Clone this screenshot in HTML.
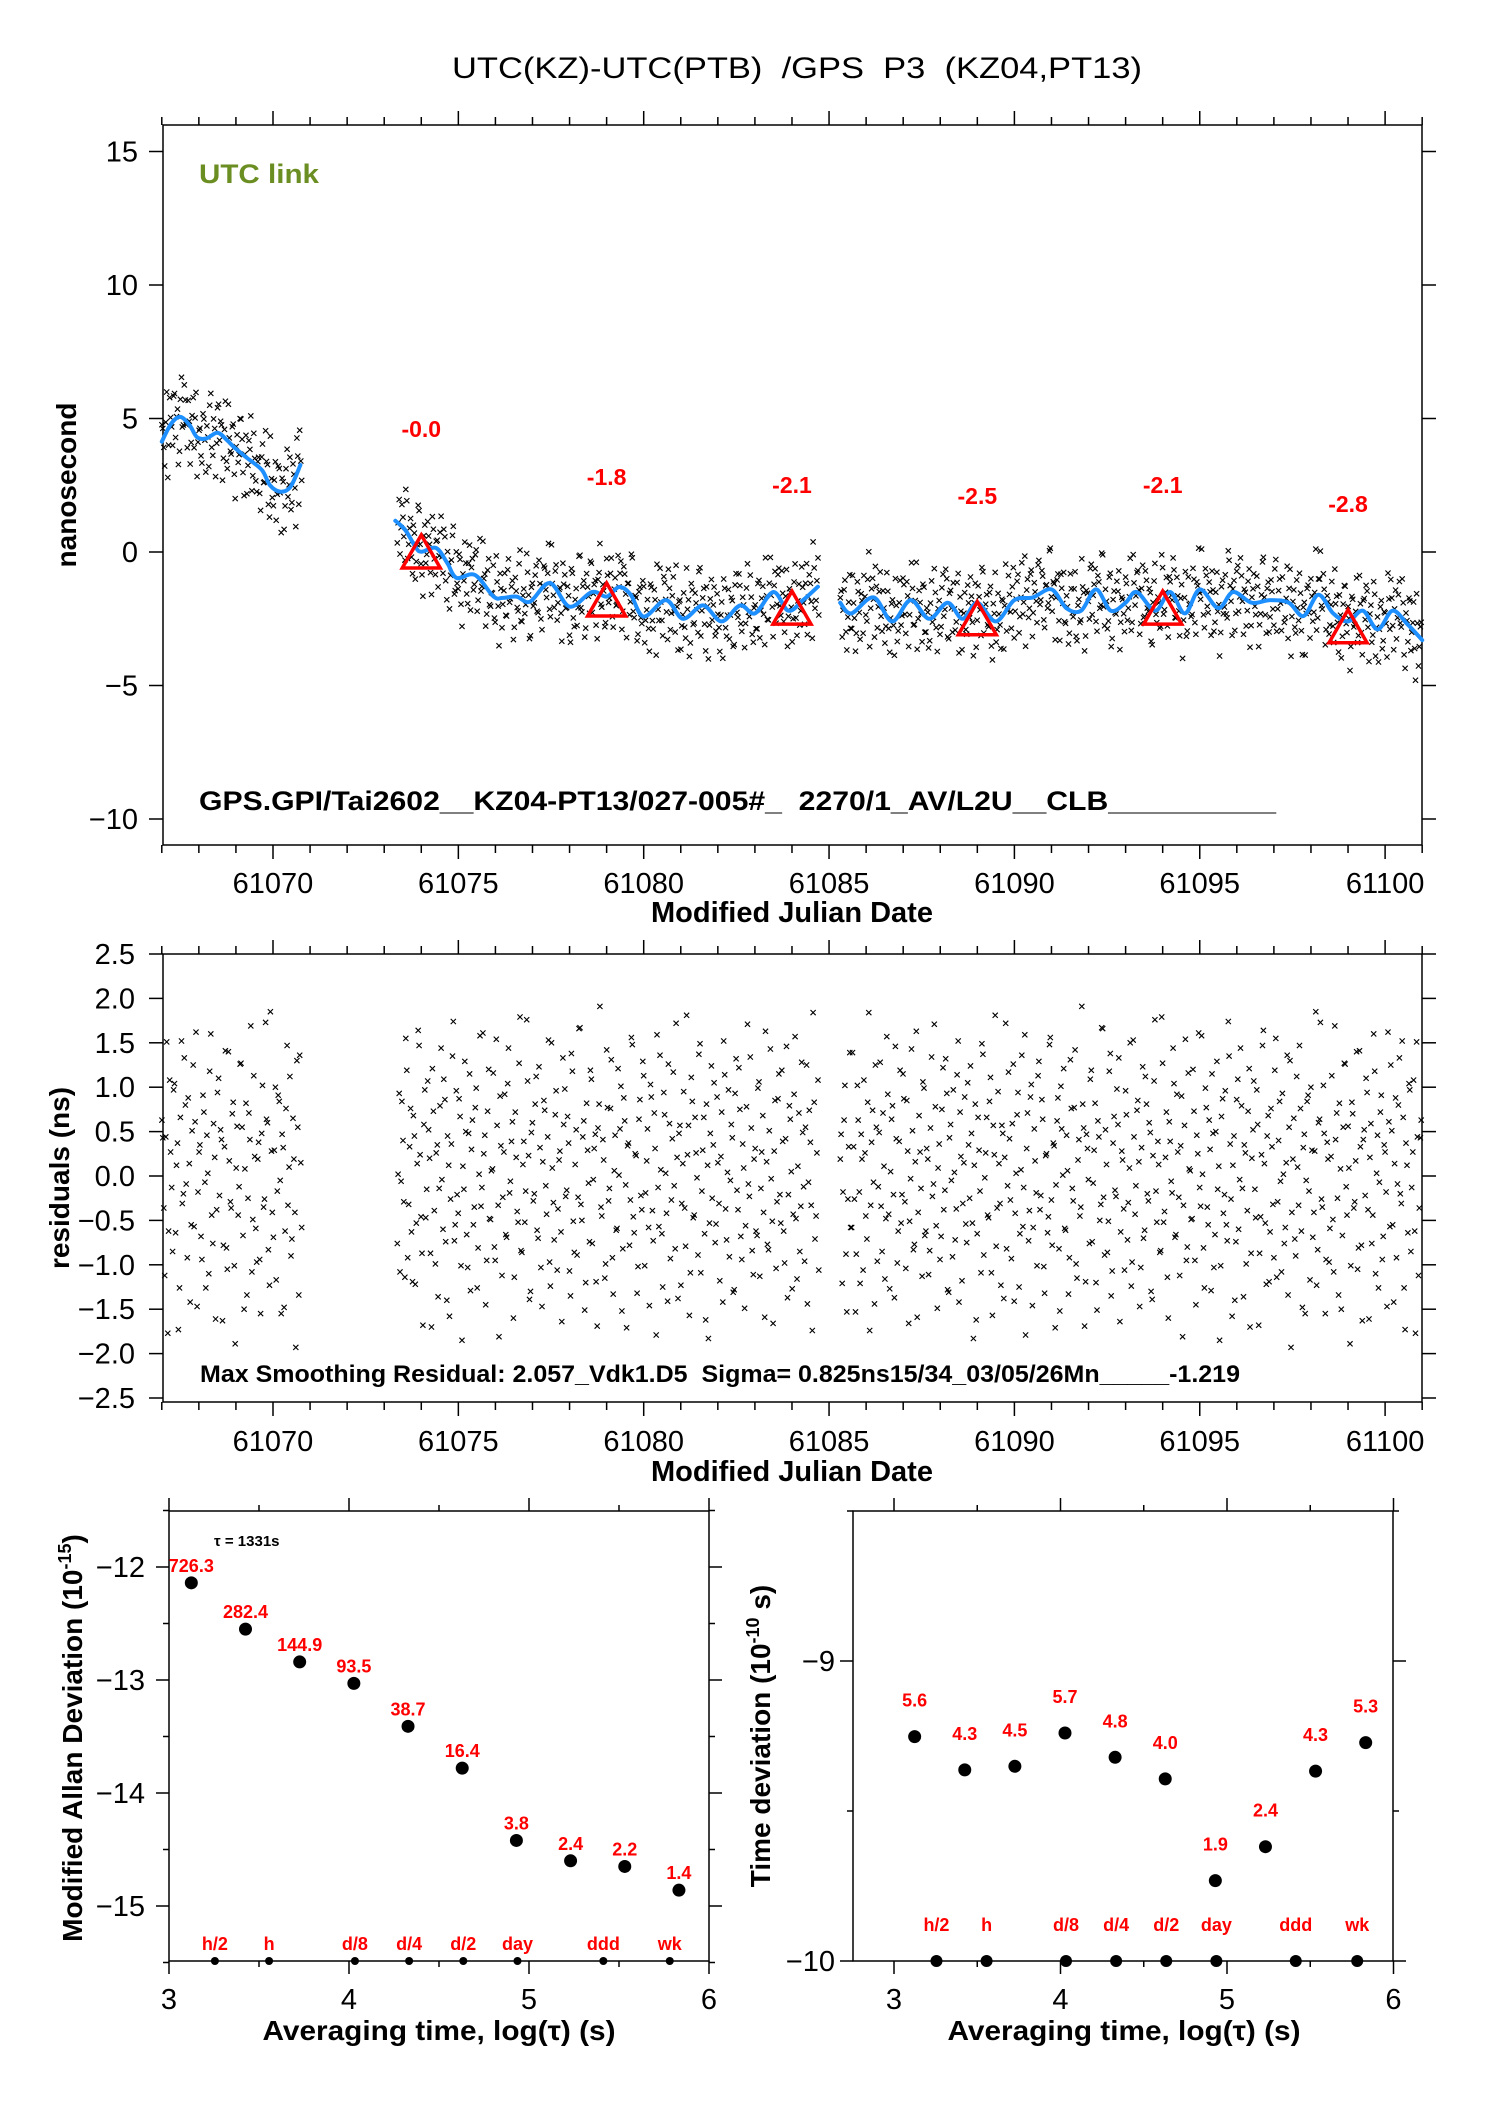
<!DOCTYPE html>
<html><head><meta charset="utf-8"><style>
html,body{margin:0;padding:0;background:#fff;}
svg{display:block;font-family:"Liberation Sans",sans-serif;}
svg text{white-space:pre;}
</style></head><body>
<svg id="fig" width="1488" height="2105" viewBox="0 0 1488 2105" xmlns="http://www.w3.org/2000/svg">
<text x="797" y="78" font-size="30" text-anchor="middle" textLength="690" lengthAdjust="spacingAndGlyphs">UTC(KZ)-UTC(PTB)  /GPS  P3  (KZ04,PT13)</text>
<g id="topP"></g>
<g id="mid"></g>
<g id="bl"></g>
<g id="br"></g>
</svg>
<script>
// ---------- data ----------
const segments = [[61067.0,61070.8],[61073.35,61084.75],[61085.3,61101.0]];
const segCounts = [72,222,306];
const smoothMjd1 = [61067.0,61067.25,61067.5,61067.75,61067.95,61068.2,61068.5,61068.75,61068.97,61069.3,61069.7,61069.92,61070.2,61070.47,61070.74];
const smoothVal1 = [4.13,4.8,5.06,4.75,4.3,4.25,4.47,4.2,3.9,3.52,3.07,2.5,2.26,2.44,3.26];
const smoothMjd2 = [61073.3,61073.57,61073.84,61074.0,61074.4,61074.7,61074.95,61075.45,61075.95,61076.2,61076.57,61076.93,61077.47,61078.0,61078.6,61079.0,61079.34,61079.65,61080.0,61080.6,61081.06,61081.6,61082.1,61082.6,61083.0,61083.5,61083.9,61084.3,61084.7];
const smoothVal2 = [1.17,0.82,0.2,0.01,0.15,-0.41,-0.97,-0.86,-1.67,-1.72,-1.67,-1.86,-1.16,-2.05,-1.5,-1.67,-1.31,-1.6,-2.42,-1.8,-2.5,-2.0,-2.6,-2.0,-2.3,-1.5,-2.2,-1.8,-1.3];
const smoothMjd3 = [61085.3,61085.6,61086.2,61086.7,61087.2,61087.7,61088.2,61088.6,61089.0,61089.5,61090.0,61090.5,61091.0,61091.4,61091.8,61092.2,61092.6,61093.0,61093.3,61093.8,61094.2,61094.6,61095.0,61095.5,61095.9,61096.4,61096.9,61097.4,61097.8,61098.2,61098.6,61099.0,61099.4,61099.8,61100.2,61100.6,61101.0];
const smoothVal3 = [-1.9,-2.3,-1.7,-2.6,-1.8,-2.5,-1.9,-2.5,-1.9,-2.6,-1.8,-1.7,-1.4,-2.1,-2.2,-1.4,-2.2,-1.9,-1.5,-2.2,-1.5,-2.3,-1.4,-2.1,-1.5,-1.9,-1.8,-1.9,-2.4,-1.6,-2.3,-2.6,-2.2,-2.9,-2.2,-2.7,-3.3];
const triMjd = [61074,61079,61084,61089,61094,61099];
const triVal = [0.0,-1.8,-2.1,-2.5,-2.1,-2.8];
const triLabels = ["-0.0","-1.8","-2.1","-2.5","-2.1","-2.8"];
const residuals = [
0.43,-1.12,1.51,-0.62,0.27,-0.85,1.04,0.12,-1.73,0.66,-0.31,1.33,-0.09,0.88,-1.42,0.51,-0.57,1.62,-0.18,0.35,
-0.94,0.72,-1.26,0.03,1.18,-0.44,0.59,-1.61,0.94,-0.22,0.41,-0.78,1.41,-1.05,0.17,-0.36,0.83,-1.89,0.56,-0.12,
1.27,-0.67,0.08,-1.34,0.71,1.69,-0.49,0.22,-0.97,0.38,-1.55,1.02,-0.26,0.64,-0.83,1.85,-0.41,0.29,-1.17,0.91,
-0.05,0.47,-1.48,0.76,-0.33,1.12,-0.71,0.19,-1.93,0.55,1.36,-0.58,0.02,-1.08,0.84,-0.29,1.55,-0.92,0.33,-0.63,
0.68,-1.22,0.14,1.47,-0.46,-1.68,0.97,-0.15,0.52,-0.87,1.21,-0.39,0.26,-1.36,0.79,-0.04,1.09,-0.74,0.45,-1.58,
0.36,1.74,-0.55,-0.21,0.87,-1.01,0.11,1.29,-0.66,0.48,-1.29,0.63,-0.35,0.99,-0.81,1.58,-0.13,0.25,-1.45,0.73,
-0.48,0.06,1.16,-0.95,0.57,-1.81,0.34,-0.24,0.92,-0.69,1.44,-0.06,0.61,-1.14,0.21,-0.52,1.79,-0.86,0.39,-0.17,
1.07,-1.39,0.49,-0.28,0.81,-0.61,1.23,-1.03,0.16,0.74,-0.43,1.53,-1.24,0.09,-0.72,0.96,-0.37,0.28,-1.64,0.58,
-0.23,0.67,-1.07,1.38,-0.51,0.13,-0.89,1.66,-0.32,0.44,-1.51,0.82,-0.08,1.19,-0.76,0.31,-1.19,0.54,1.91,-0.45,
0.18,-0.99,0.77,-0.14,1.31,-1.33,0.46,-0.59,0.01,1.01,-0.82,0.62,-1.71,0.37,-0.27,1.48,-0.64,0.23,-1.02,0.86,
-0.38,1.13,-0.19,0.53,-1.46,0.89,-0.73,0.31,1.59,-0.57,0.07,-1.25,0.69,-0.42,1.26,-0.93,0.42,-0.11,1.72,-1.38,
0.57,-0.31,0.95,-0.79,0.24,-1.57,1.11,-0.47,0.66,-0.02,1.37,-1.09,0.29,-0.65,0.81,-1.83,0.48,-0.25,1.05,-0.54,
0.15,-1.18,0.72,1.52,-0.37,0.04,-0.91,0.58,-1.31,0.93,-0.16,1.22,-0.68,0.36,-1.49,0.78,-0.09,1.34,-0.84,0.19,
-0.62,0.99,-1.13,0.27,-0.41,1.63,-0.77,0.51,-0.03,-1.66,0.85,-0.29,1.15,-0.53,0.39,-0.98,1.46,-0.21,0.64,-1.27,
0.92,-0.48,0.11,-0.85,1.28,-0.12,0.55,-1.44,0.74,-0.33,1.84,-0.71,0.26,-1.06,0.47,-0.18,1.02,-1.53,0.33,-0.58,
1.39,-0.26,-0.88,0.63,-1.21,0.19,1.08,-0.45,0.83,-1.74,0.38,-0.07,1.25,-0.96,0.49,-0.34,0.71,-1.16,1.57,-0.43,
0.05,0.79,-1.37,0.42,-0.62,1.19,-0.21,0.87,-1.04,0.28,-0.51,1.43,-0.83,0.16,-1.59,0.68,-0.14,1.06,-0.67,0.31,
-1.11,0.54,-0.23,1.71,-0.56,0.09,-0.94,0.75,-0.38,1.32,-1.28,0.43,-0.05,0.97,-0.72,1.14,-1.42,0.22,-0.31,0.89,
-0.75,0.35,1.24,-0.53,0.12,-1.62,0.66,-0.17,1.49,-0.89,0.26,-0.44,0.84,-1.09,0.57,1.81,-0.36,0.14,-1.23,0.48,
0.21,-0.82,1.17,-0.27,0.59,-1.41,0.03,0.94,-0.65,1.36,-0.13,-1.79,0.71,-0.39,1.03,-0.58,0.17,-1.01,1.29,-0.22,
0.64,-1.32,0.25,-0.46,1.56,-0.78,0.34,-0.1,0.88,-1.52,0.53,1.21,-0.61,0.06,-0.92,0.76,-0.28,1.42,-1.15,0.41,
-0.35,0.81,-1.69,0.47,-0.04,1.09,-0.74,0.29,-1.2,0.62,-0.5,1.67,-0.24,0.52,-0.86,1.18,-1.35,0.37,-0.16,0.98,
1.33,-0.63,0.18,-1.06,0.69,-0.3,1.5,-0.97,0.44,-0.11,0.85,-1.47,0.32,-0.7,1.12,-0.2,0.6,-1.3,0.23,1.76,
-0.52,0.13,-0.84,1.27,-0.4,0.72,-1.6,0.39,-0.19,1.04,-0.66,0.27,-1.12,0.9,-0.33,1.54,-0.8,0.08,-0.49,1.2,
-0.95,0.46,1.61,-0.34,0.02,-1.26,0.77,-0.55,0.3,1.15,-1.03,0.5,-0.15,-1.85,0.67,-0.42,0.96,-0.73,1.35,-0.26,
0.12,-1.4,0.86,-0.6,1.44,-0.14,0.35,-0.99,0.73,-1.7,0.2,1.07,-0.47,0.58,-0.87,0.24,1.64,-0.53,0.45,-1.19,
0.76,-0.32,1.19,-1.14,0.4,-0.06,0.93,-0.76,0.15,-1.34,1.3,-0.41,0.65,-0.9,0.1,1.47,-0.62,0.32,-1.55,0.84,
-0.17,1.0,-0.69,0.28,-1.23,0.6,1.73,-0.35,0.48,-0.94,0.19,-0.59,1.13,-1.08,0.41,-0.25,0.82,-1.5,0.55,1.26,
-0.44,0.09,-1.01,0.7,-0.29,1.4,-0.81,0.33,-1.63,0.52,1.1,-0.38,0.21,-0.76,1.6,-1.1,0.46,-0.07,0.91,-0.68,
0.27,-1.47,0.61,1.25,-0.55,0.14,-0.92,0.8,-0.2,1.52,-1.26,0.37,-0.64,0.97,-0.13,1.08,-1.77,0.44,-0.36,0.63];
const tauLog = [3.124,3.425,3.726,4.027,4.328,4.629,4.930,5.231,5.532,5.833];
const mdevVal = [-12.14,-12.55,-12.84,-13.03,-13.41,-13.78,-14.42,-14.60,-14.65,-14.86];
const mdevLabels = ["726.3","282.4","144.9","93.5","38.7","16.4","3.8","2.4","2.2","1.4"];
const tdevVal = [-9.252,-9.363,-9.351,-9.24,-9.321,-9.393,-9.732,-9.619,-9.367,-9.272];
const tdevLabels = ["5.6","4.3","4.5","5.7","4.8","4.0","1.9","2.4","4.3","5.3"];
const markLog = [3.255,3.556,4.033,4.334,4.635,4.936,5.413,5.782];
const markLabels = ["h/2","h","d/8","d/4","d/2","day","ddd","wk"];
const mjdTicks = [61070,61075,61080,61085,61090,61095,61100];
const nsTicks = [15,10,5,0,-5,-10];
const resTicks = [2.5,2.0,1.5,1.0,0.5,0.0,-0.5,-1.0,-1.5,-2.0,-2.5];
const logTicks = [3,4,5,6];
const mdevTicks = [-12,-13,-14,-15];
const tdevTicks = [-9,-10];

// ---------- scales ----------
const xT = m => 273 + (m-61070)*37.07;
const yT = v => 151.5 + (15-v)*26.7;
const yM = v => 954 + (2.5-v)*88.8;
const xL = l => 169 + (l-3)*180;
const yL = v => 1567 + (-12-v)*113;
const xR = l => 894 + (l-3)*166.5;
const yR = v => 1661 + (-9-v)*300;
const NS="http://www.w3.org/2000/svg";
function mk(parent, tag, attrs, txtc){const e=document.createElementNS(NS,tag);for(const k in attrs)e.setAttribute(k,attrs[k]);if(txtc!==undefined)e.textContent=txtc;parent.appendChild(e);return e;}
const fmtMinus = s => String(s).replace('-','\u2212');

function drawFrame(g,x0,y0,x1,y1,name){
  const r=mk(g,'rect',{x:x0,y:y0,width:x1-x0,height:y1-y0,fill:'none',stroke:'#000','stroke-width':1.5});
  
  
}
function drawLine(g,x1,y1,x2,y2,w,name){
  const l=mk(g,'line',{x1,y1,x2,y2,stroke:'#000','stroke-width':w||1.5});
  
  
}
function drawText(g,x,y,s,attrs,name){
  const t=mk(g,'text',Object.assign({x,y},attrs),s);
  
  
  return t;
}
function smoothPath(xs,ys){
  let d='M'+xs[0].toFixed(1)+','+ys[0].toFixed(1);
  for(let i=0;i<xs.length-1;i++){
    const x0=xs[Math.max(i-1,0)],y0=ys[Math.max(i-1,0)],x1=xs[i],y1=ys[i],x2=xs[i+1],y2=ys[i+1],x3=xs[Math.min(i+2,xs.length-1)],y3=ys[Math.min(i+2,xs.length-1)];
    const c1x=x1+(x2-x0)/6,c1y=y1+(y2-y0)/6,c2x=x2-(x3-x1)/6,c2y=y2-(y3-y1)/6;
    d+=` C${c1x.toFixed(1)},${c1y.toFixed(1)} ${c2x.toFixed(1)},${c2y.toFixed(1)} ${x2.toFixed(1)},${y2.toFixed(1)}`;
  }
  return d;
}
function interp(ms,vs,m){
  if(m<=ms[0])return vs[0];
  for(let i=0;i<ms.length-1;i++){if(m<=ms[i+1]){const f=(m-ms[i])/(ms[i+1]-ms[i]);return vs[i]+f*(vs[i+1]-vs[i]);}}
  return vs[vs.length-1];
}
function drawCross(g,x,y,name){
  const p=mk(g,'path',{d:`M${(x-2.6).toFixed(1)},${(y-2.6).toFixed(1)}l5.2,5.2m0,-5.2l-5.2,5.2`,stroke:'#000','stroke-width':1.1,fill:'none'});
  
  
}
function mjdAxis(g,y0,y1){
  for(let d=61067; d<=61101; d++){
    const x=xT(d), maj=d%5===0, L=maj?14:8;
    drawLine(g,x,y0,x,y0-L,1.5,'x-tick-top');
    drawLine(g,x,y1,x,y1+L,1.5,'x-tick-bottom');
  }
}
// two sample passes: residual i at step k+0.5, and residual (N-1-i) at step k
const sampleMjd=[], sampleRes=[];
const NR=residuals.length;
let idx=0;
segments.forEach((s,si)=>{const n=segCounts[si];for(let k=0;k<n;k++){
  const st=(s[1]-s[0])/n;
  sampleMjd.push(s[0]+(k+0.5)*st); sampleRes.push(residuals[idx]);
  sampleMjd.push(s[0]+(k+0.05)*st); sampleRes.push(residuals[NR-1-idx]);
  idx++;
}});
const smoothAll = m => m<61072 ? interp(smoothMjd1,smoothVal1,m) : (m<61085 ? interp(smoothMjd2,smoothVal2,m) : interp(smoothMjd3,smoothVal3,m));

// ---------- top panel ----------
const topPanel=document.getElementById('topP');
drawFrame(topPanel,163,125,1422,845,'top-plot-frame');
mjdAxis(topPanel,125,845);
nsTicks.forEach(v=>{
  const y=yT(v);
  drawLine(topPanel,149,y,163,y,1.5,'y-tick-left');
  drawLine(topPanel,1422,y,1436,y,1.5,'y-tick-right');
  drawText(topPanel,138,y+10,fmtMinus(v),{'font-size':29,'text-anchor':'end'},'y-tick-label');
});
mjdTicks.forEach(m=>drawText(topPanel,xT(m),893,String(m),{'font-size':29,'text-anchor':'middle'},'x-tick-label'));
drawText(topPanel,792,922,'Modified Julian Date',{'font-size':29,'font-weight':'bold','text-anchor':'middle'},'x-axis-title');
drawText(topPanel,0,0,'nanosecond',{'font-size':28,'font-weight':'bold','text-anchor':'middle',transform:'translate(76,485) rotate(-90)'},'y-axis-title');
drawText(topPanel,199,183,'UTC link',{'font-size':27,'font-weight':'bold',fill:'#6b8e23',textLength:120,lengthAdjust:'spacingAndGlyphs'},'utc-link-label');
drawText(topPanel,199,810,'GPS.GPI/Tai2602__KZ04-PT13/027-005#_  2270/1_AV/L2U__CLB__________',{'font-size':27,'font-weight':'bold',textLength:1077,lengthAdjust:'spacingAndGlyphs'},'link-info-text');
sampleMjd.forEach((m,i)=>drawCross(topPanel,xT(m),yT(smoothAll(m)+sampleRes[i]),'data-point'));
[[smoothMjd1,smoothVal1],[smoothMjd2,smoothVal2],[smoothMjd3,smoothVal3]].forEach(([ms,vs])=>{
  const p=mk(topPanel,'path',{d:smoothPath(ms.map(xT),vs.map(yT)),fill:'none',stroke:'#1e8fff','stroke-width':4,'stroke-linecap':'round'});
  
  
});
triMjd.forEach((m,i)=>{
  const x=xT(m), y=yT(triVal[i]);
  const t=mk(topPanel,'path',{d:`M${x},${y-17}L${x+19},${y+16}L${x-19},${y+16}Z`,fill:'none',stroke:'#ff0000','stroke-width':3.5});
  
  
  drawText(topPanel,x,y-115,triLabels[i],{'font-size':23,'font-weight':'bold','text-anchor':'middle',fill:'#ff0000'},'calibration-value');
});

// ---------- residual panel ----------
const mid=document.getElementById('mid');
drawFrame(mid,163,954,1422,1402,'residuals-plot-frame');
mjdAxis(mid,954,1402);
resTicks.forEach(v=>{
  const y=yM(v);
  drawLine(mid,149,y,163,y,1.5,'y-tick-left');
  drawLine(mid,1422,y,1436,y,1.5,'y-tick-right');
  drawText(mid,135,y+10,fmtMinus(v.toFixed(1)),{'font-size':29,'text-anchor':'end'},'y-tick-label');
});
mjdTicks.forEach(m=>drawText(mid,xT(m),1451,String(m),{'font-size':29,'text-anchor':'middle'},'x-tick-label'));
drawText(mid,792,1481,'Modified Julian Date',{'font-size':29,'font-weight':'bold','text-anchor':'middle'},'x-axis-title');
drawText(mid,0,0,'residuals (ns)',{'font-size':28,'font-weight':'bold','text-anchor':'middle',transform:'translate(69,1178) rotate(-90)'},'y-axis-title');
sampleMjd.forEach((m,i)=>drawCross(mid,xT(m),yM(sampleRes[i]),'residual-point'));
drawText(mid,200,1382,'Max Smoothing Residual: 2.057_Vdk1.D5  Sigma= 0.825ns15/34_03/05/26Mn_____-1.219',{'font-size':24,'font-weight':'bold',textLength:1040,lengthAdjust:'spacingAndGlyphs'},'residual-stats-text');

// ---------- stability panels ----------
function logAxis(g,xs,y0,y1){
  for(let l=3;l<=6.001;l+=0.5){
    const x=xs(l), maj=Math.abs(l-Math.round(l))<0.01, L=maj?13:6;
    drawLine(g,x,y0,x,y0-L,1.5,'x-tick-top');
    drawLine(g,x,y1,x,y1+L,1.5,'x-tick-bottom');
  }
  logTicks.forEach(l=>drawText(g,xs(l),2009,String(l),{'font-size':29,'text-anchor':'middle'},'x-tick-label'));
}
const bl=document.getElementById('bl');
drawFrame(bl,169,1511,709,1961,'mdev-plot-frame');
logAxis(bl,xL,1511,1961);
for(let v=-11.5; v>=-15.51; v-=0.5){
  const y=yL(v), maj=Math.abs(v-Math.round(v))<0.01, L=maj?13:6;
  drawLine(bl,169-L,y,169,y,1.5,'y-tick-left');
  drawLine(bl,709,y,709+L,y,1.5,'y-tick-right');
}
mdevTicks.forEach(v=>drawText(bl,145,yL(v)+10,fmtMinus(v),{'font-size':29,'text-anchor':'end'},'y-tick-label'));
drawText(bl,439,2040,'Averaging time, log(\u03c4) (s)',{'font-size':28,'font-weight':'bold','text-anchor':'middle',textLength:353,lengthAdjust:'spacingAndGlyphs'},'x-axis-title');
const yt=drawText(bl,0,0,'Modified Allan Deviation (10',{'font-size':28,'font-weight':'bold','text-anchor':'middle',transform:'translate(82,1738) rotate(-90)'},'y-axis-title');
const sup=mk(yt,'tspan',{'font-size':18,dy:-11},'-15');


const cp=mk(yt,'tspan',{dy:11},')');


drawText(bl,214,1546,'\u03c4 = 1331s',{'font-size':15,'font-weight':'bold'},'tau-label');
tauLog.forEach((l,i)=>{
  const c=mk(bl,'circle',{cx:xL(l),cy:yL(mdevVal[i]),r:6.5,fill:'#000'});
  
  
  drawText(bl,xL(l),yL(mdevVal[i])-11,mdevLabels[i],{'font-size':18,'font-weight':'bold','text-anchor':'middle',fill:'#ff0000'},'mdev-value-label');
});
markLog.forEach((l,i)=>{
  const c=mk(bl,'circle',{cx:xL(l),cy:1961,r:4,fill:'#000'});
  
  
  drawText(bl,xL(l),1950,markLabels[i],{'font-size':18,'font-weight':'bold','text-anchor':'middle',fill:'#ff0000'},'interval-label');
});

const br=document.getElementById('br');
drawFrame(br,853,1511,1393,1961,'tdev-plot-frame');
logAxis(br,xR,1511,1961);
[-8.5,-9,-9.5,-10].forEach(v=>{
  const y=yR(v), maj=Math.abs(v-Math.round(v))<0.01, L=maj?13:6;
  drawLine(br,853-L,y,853,y,1.5,'y-tick-left');
  drawLine(br,1393,y,1393+L,y,1.5,'y-tick-right');
});
tdevTicks.forEach(v=>drawText(br,835,yR(v)+10,fmtMinus(v),{'font-size':29,'text-anchor':'end'},'y-tick-label'));
drawText(br,1124,2040,'Averaging time, log(\u03c4) (s)',{'font-size':28,'font-weight':'bold','text-anchor':'middle',textLength:353,lengthAdjust:'spacingAndGlyphs'},'x-axis-title');
const yt2=drawText(br,0,0,'Time deviation (10',{'font-size':28,'font-weight':'bold','text-anchor':'middle',transform:'translate(770,1736) rotate(-90)'},'y-axis-title');
const sup2=mk(yt2,'tspan',{'font-size':18,dy:-11},'-10');


const cp2=mk(yt2,'tspan',{dy:11},' s)');


tauLog.forEach((l,i)=>{
  const c=mk(br,'circle',{cx:xR(l),cy:yR(tdevVal[i]),r:6.5,fill:'#000'});
  
  
  drawText(br,xR(l),yR(tdevVal[i])-30,tdevLabels[i],{'font-size':18,'font-weight':'bold','text-anchor':'middle',fill:'#ff0000'},'tdev-value-label');
});
markLog.forEach((l,i)=>{
  const c=mk(br,'circle',{cx:xR(l),cy:1961,r:6,fill:'#000'});
  
  
  drawText(br,xR(l),1931,markLabels[i],{'font-size':18,'font-weight':'bold','text-anchor':'middle',fill:'#ff0000'},'interval-label');
});
</script>
</body></html>
